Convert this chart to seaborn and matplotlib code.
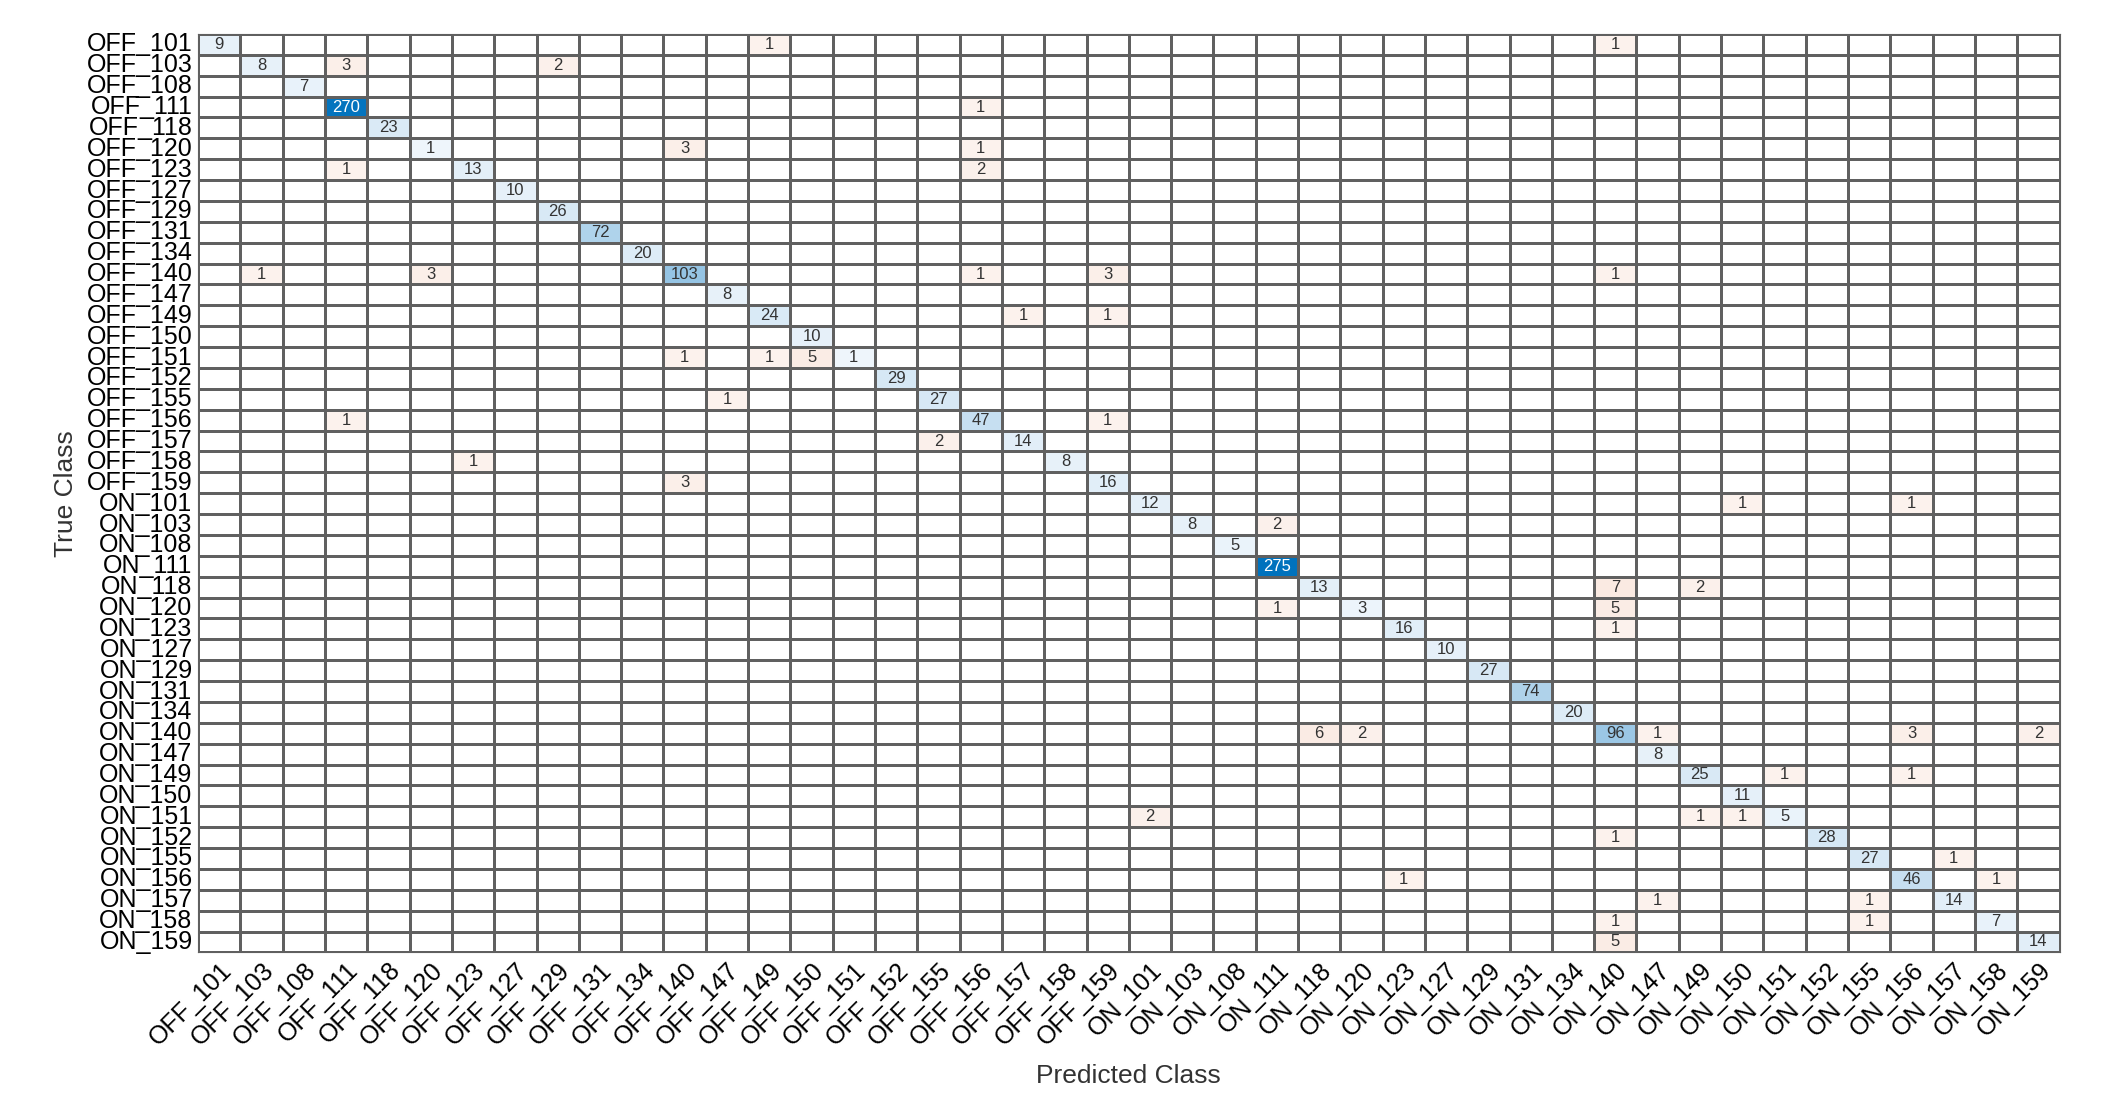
"""Confusion chart of OFF/ON classes, drawn with seaborn heatmaps"""
import numpy as np
import matplotlib
matplotlib.use("Agg")
import matplotlib.pyplot as plt
from matplotlib.colors import LinearSegmentedColormap
import seaborn as sns

IDS = ["101", "103", "108", "111", "118", "120", "123", "127", "129", "131", "134",
       "140", "147", "149", "150", "151", "152", "155", "156", "157", "158", "159"]
CLASSES = ["OFF_" + i for i in IDS] + ["ON_" + i for i in IDS]

DIAG = [9, 8, 7, 270, 23, 1, 13, 10, 26, 72, 20, 103, 8, 24, 10, 1, 29, 27, 47, 14, 8, 16,
        12, 8, 5, 275, 13, 3, 16, 10, 27, 74, 20, 96, 8, 25, 11, 5, 28, 27, 46, 14, 7, 14]

# off-diagonal confusions: true class, predicted class, count
OFF_TRUE = ["OFF_101", "OFF_101", "OFF_103", "OFF_103", "OFF_111", "OFF_120", "OFF_120",
            "OFF_123", "OFF_123", "OFF_140", "OFF_140", "OFF_140", "OFF_140", "OFF_140",
            "OFF_149", "OFF_149", "OFF_151", "OFF_151", "OFF_151", "OFF_155", "OFF_156",
            "OFF_156", "OFF_157", "OFF_158", "OFF_159",
            "ON_101", "ON_101", "ON_103", "ON_118", "ON_118", "ON_120", "ON_120", "ON_123",
            "ON_140", "ON_140", "ON_140", "ON_140", "ON_140", "ON_149", "ON_149",
            "ON_151", "ON_151", "ON_151", "ON_152", "ON_155", "ON_156", "ON_156",
            "ON_157", "ON_157", "ON_158", "ON_158", "ON_159"]
OFF_PRED = ["OFF_149", "ON_140", "OFF_111", "OFF_129", "OFF_156", "OFF_140", "OFF_156",
            "OFF_111", "OFF_156", "OFF_103", "OFF_120", "OFF_156", "OFF_159", "ON_140",
            "OFF_157", "OFF_159", "OFF_140", "OFF_149", "OFF_150", "OFF_147", "OFF_111",
            "OFF_159", "OFF_155", "OFF_123", "OFF_140",
            "ON_150", "ON_156", "ON_111", "ON_140", "ON_149", "ON_111", "ON_140", "ON_140",
            "ON_118", "ON_120", "ON_147", "ON_156", "ON_159", "ON_151", "ON_156",
            "ON_101", "ON_149", "ON_150", "ON_140", "ON_157", "ON_123", "ON_158",
            "ON_147", "ON_155", "ON_140", "ON_155", "ON_140"]
OFF_VALS = [1, 1, 3, 2, 1, 3, 1,
            1, 2, 1, 3, 1, 3, 1,
            1, 1, 1, 1, 5, 1, 1,
            1, 2, 1, 3,
            1, 1, 2, 7, 2, 1, 5, 1,
            6, 2, 1, 3, 2, 1, 1,
            2, 1, 1, 1, 1, 1, 1,
            1, 1, 1, 1, 5]

n = len(CLASSES)
idx = {c: i for i, c in enumerate(CLASSES)}
cm = np.zeros((n, n))
for i, v in enumerate(DIAG):
    cm[i, i] = v
for t, p, v in zip(OFF_TRUE, OFF_PRED, OFF_VALS):
    cm[idx[t], idx[p]] = v

diag_mask = ~np.eye(n, dtype=bool)
off_mask = np.eye(n, dtype=bool) | (cm == 0)
annot = np.where(cm > 0, cm.astype(int).astype(str), "")

blues = LinearSegmentedColormap.from_list("b", ["#eef5fb", "#0072bd"])
oranges = LinearSegmentedColormap.from_list("o", ["#fcf3ef", "#f6d8c9"])
GRID = "#606060"

plt.rcParams["font.family"] = ["Liberation Sans", "DejaVu Sans"]
fig = plt.figure(figsize=(21.08, 10.96), dpi=100)
ax = fig.add_axes([0.094, 0.131, 0.883, 0.838])

# white background cells with grid
sns.heatmap(np.zeros((n, n)), cmap=LinearSegmentedColormap.from_list("w", ["white", "white"]),
            cbar=False, linewidths=0.9, linecolor=GRID, ax=ax)
sns.heatmap(cm, mask=off_mask, cmap=oranges, vmin=0, vmax=20, cbar=False,
            annot=annot, fmt="", annot_kws={"fontsize": 12, "color": "#333333"},
            linewidths=0.9, linecolor=GRID, ax=ax)
sns.heatmap(cm, mask=diag_mask, cmap=blues, vmin=0, vmax=275, cbar=False,
            annot=annot, fmt="", annot_kws={"fontsize": 12, "color": "#333333"},
            linewidths=0.9, linecolor=GRID, ax=ax)
for txt in ax.texts:
    if txt.get_text() in ("270", "275"):
        txt.set_color("white")

ax.set_xticks(np.arange(n) + 0.5)
ax.set_yticks(np.arange(n) + 0.5)
ax.set_xticklabels(CLASSES, rotation=45, ha="right", rotation_mode="anchor", fontsize=18)
ax.set_yticklabels(CLASSES, rotation=0, fontsize=18)
ax.tick_params(length=0, pad=4)
for side in ax.spines.values():
    side.set_visible(True)
    side.set_color(GRID)
ax.set_xlabel("Predicted Class", fontsize=19, labelpad=10, color="#333333")
ax.set_ylabel("True Class", fontsize=19, labelpad=6, color="#333333")

fig.savefig("out.png", dpi=100)
